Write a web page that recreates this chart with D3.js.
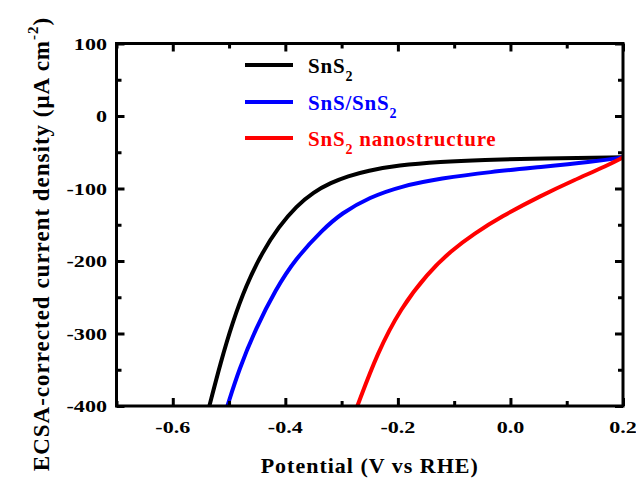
<!DOCTYPE html>
<html><head><meta charset="utf-8">
<script src="https://cdn.jsdelivr.net/npm/d3@7"></script>
<style>
body{margin:0;background:#fff;}
text{font-family:"Liberation Serif","Times New Roman",serif;font-weight:bold;}
</style>
</head><body><svg id="c" width="636" height="478"></svg>
<script>
const seriesNames = ["SnS2", "SnS/SnS2", "SnS2 nanostructure"];
const seriesColors = ["#000000", "#0000ff", "#ff0000"];

const sns2Potential = [-0.535,-0.515,-0.494,-0.470,-0.441,-0.412,-0.380,-0.350,-0.319,-0.289,-0.254,-0.200,-0.124,-0.050,0.054,0.200];
const sns2Current   = [-400,-340,-285,-234,-188,-153,-124,-105,-92,-83,-75.5,-68,-63,-60.5,-58.5,-57];

const snsSns2Potential = [-0.503,-0.482,-0.453,-0.417,-0.382,-0.334,-0.300,-0.250,-0.195,-0.124,-0.035,0.054,0.143,0.200];
const snsSns2Current   = [-400,-349,-294,-239,-197,-157,-134,-112,-97,-86,-77,-70.5,-63.5,-57];

const nanoPotential = [-0.272,-0.236,-0.195,-0.147,-0.106,-0.064,-0.017,0.054,0.113,0.173,0.200];
const nanoCurrent   = [-400,-326,-265,-217,-186,-162,-139,-110,-88.5,-68,-57];

const xMajorTicks = [-0.6,-0.4,-0.2,0.0,0.2];
const xMajorLabels = ["-0.6","-0.4","-0.2","0.0","0.2"];
const xMinorTicks = [-0.7,-0.5,-0.3,-0.1,0.1];
const yMajorTicks = [100,0,-100,-200,-300,-400];
const yMajorLabels = ["100","0","-100","-200","-300","-400"];
const yMinorTicks = [50,-50,-150,-250,-350];

const svg = d3.select("#c");
const L = 116.5, R = 623, T = 43.5, B = 406;
const x = d3.scaleLinear().domain([-0.7, 0.2]).range([L, R]);
const y = d3.scaleLinear().domain([-400, 100]).range([B, T]);

svg.append("rect").attr("width",636).attr("height",478).attr("fill","#fff");

const series = [
  {name: seriesNames[0], color: seriesColors[0], xs: sns2Potential, ys: sns2Current},
  {name: seriesNames[1], color: seriesColors[1], xs: snsSns2Potential, ys: snsSns2Current},
  {name: seriesNames[2], color: seriesColors[2], xs: nanoPotential, ys: nanoCurrent}
];

const line = d3.line().x(d => x(d[0])).y(d => y(d[1])).curve(d3.curveBasis);
svg.append("clipPath").attr("id","clip").append("rect")
  .attr("x",L).attr("y",T).attr("width",R-L).attr("height",B-T);
series.forEach(s => {
  const pts = s.xs.map((v,i) => [v, s.ys[i]]);
  svg.append("path").attr("d", line(pts)).attr("fill","none")
    .attr("stroke", s.color).attr("stroke-width", 4).attr("clip-path","url(#clip)");
});

// axes (ticks inside, mirrored)
function styleAxis(g){
  g.select(".domain").remove();
  g.selectAll(".tick line").attr("stroke","#000").attr("stroke-width",3);
  g.selectAll(".tick text").remove();
}
svg.append("g").attr("transform",`translate(0,${B})`).call(d3.axisBottom(x).tickValues(xMajorTicks).tickSize(-8)).call(styleAxis);
svg.append("g").attr("transform",`translate(0,${B})`).call(d3.axisBottom(x).tickValues(xMinorTicks).tickSize(-5)).call(styleAxis);
svg.append("g").attr("transform",`translate(0,${T})`).call(d3.axisTop(x).tickValues(xMajorTicks).tickSize(-8)).call(styleAxis);
svg.append("g").attr("transform",`translate(0,${T})`).call(d3.axisTop(x).tickValues(xMinorTicks).tickSize(-5)).call(styleAxis);
svg.append("g").attr("transform",`translate(${L},0)`).call(d3.axisLeft(y).tickValues(yMajorTicks).tickSize(-8)).call(styleAxis);
svg.append("g").attr("transform",`translate(${L},0)`).call(d3.axisLeft(y).tickValues(yMinorTicks).tickSize(-5)).call(styleAxis);
svg.append("g").attr("transform",`translate(${R},0)`).call(d3.axisRight(y).tickValues(yMajorTicks).tickSize(-8)).call(styleAxis);
svg.append("g").attr("transform",`translate(${R},0)`).call(d3.axisRight(y).tickValues(yMinorTicks).tickSize(-5)).call(styleAxis);

svg.append("rect").attr("x",L).attr("y",T).attr("width",R-L).attr("height",B-T)
  .attr("fill","none").attr("stroke","#000").attr("stroke-width",3);

// tick labels
xMajorTicks.forEach((v,i) => {
  svg.append("text").attr("transform",`translate(${x(v)},433) scale(1.3,1)`)
    .attr("text-anchor","middle").attr("font-size",17).text(xMajorLabels[i]);
});
yMajorTicks.forEach((v,i) => {
  svg.append("text").attr("transform",`translate(107,${y(v)+6}) scale(1.3,1)`)
    .attr("text-anchor","end").attr("font-size",17).text(yMajorLabels[i]);
});

// axis titles
svg.append("text").attr("x",(L+R)/2).attr("y",473).attr("text-anchor","middle")
  .attr("font-size",22).attr("letter-spacing","1px").text("Potential (V vs RHE)");

const yt = svg.append("text").attr("transform","translate(49,244) rotate(-90)")
  .attr("text-anchor","middle").attr("font-size",23).attr("letter-spacing","1px");
yt.append("tspan").text("ECSA-corrected current density (\u03bcA cm");
yt.append("tspan").attr("dy",-11).attr("font-size",15).text("-2");
yt.append("tspan").attr("dy",11).text(")");

// legend
const legY = [65, 102, 138];
series.forEach((s,i) => {
  svg.append("line").attr("x1",245).attr("x2",293).attr("y1",legY[i]).attr("y2",legY[i])
    .attr("stroke",s.color).attr("stroke-width",4);
  const t = svg.append("text").attr("x",308).attr("y",legY[i]+8).attr("font-size",21)
    .attr("letter-spacing","0.8px").attr("fill",s.color);
  const parts = s.name.split("2");
  parts.forEach((p,j) => {
    if (j > 0 && p.length) t.append("tspan").attr("dy",-8).text(p);
    else if (p.length) t.append("tspan").text(p);
    if (j < parts.length-1) {
      t.append("tspan").attr("dy",8).attr("font-size",14).text("2");
    }
  });
});
</script></body></html>
